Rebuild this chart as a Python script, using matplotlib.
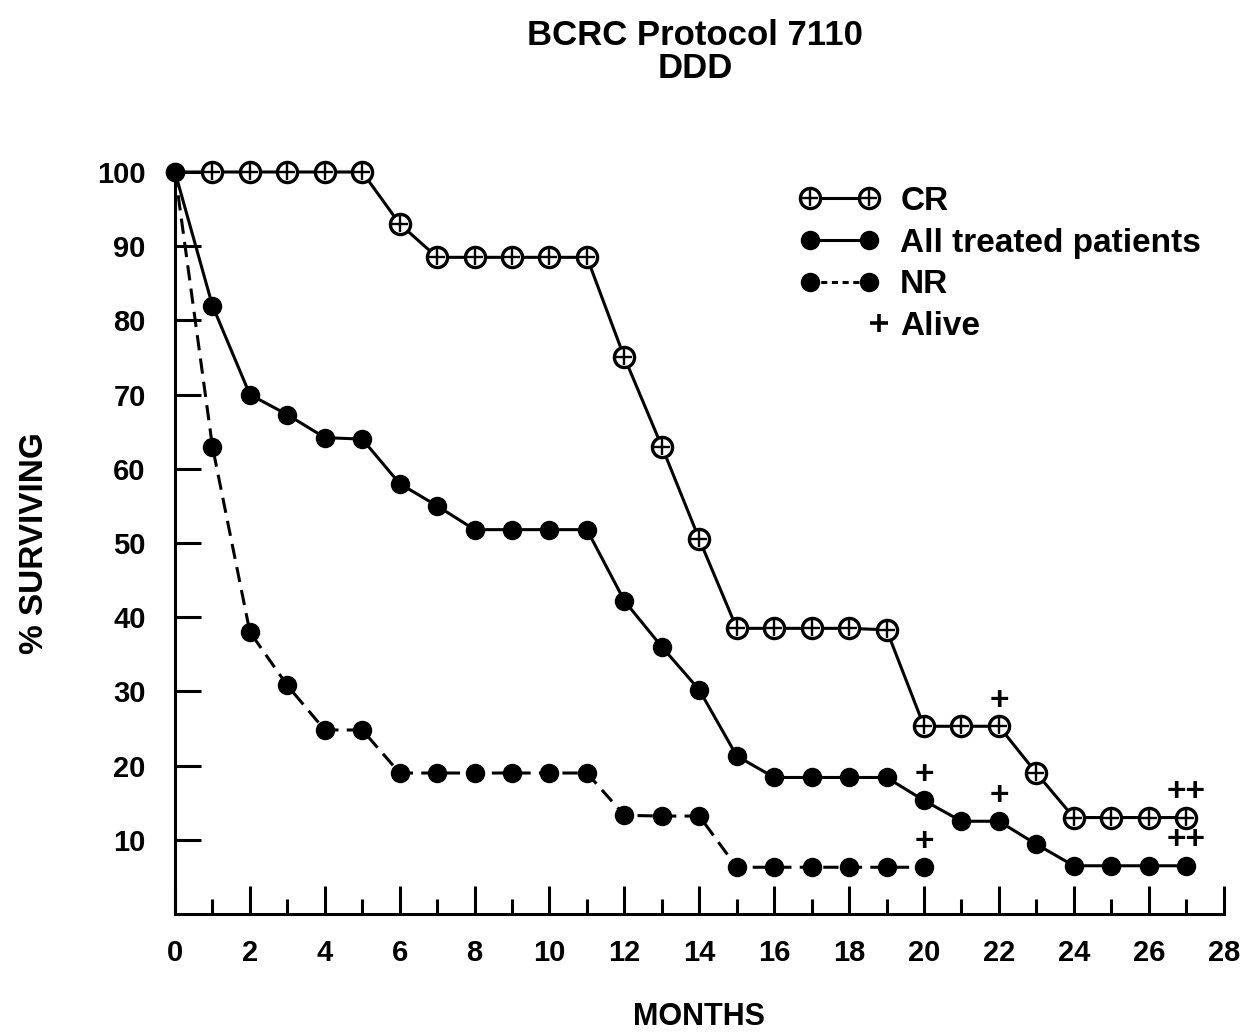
import matplotlib.pyplot as plt
from matplotlib.lines import Line2D
from matplotlib.legend_handler import HandlerLine2D
import numpy as np

plt.rcParams['font.family'] = ['Liberation Sans', 'DejaVu Sans']
plt.rcParams['font.weight'] = 'bold'
plt.rcParams['axes.labelweight'] = 'bold'

# 数据
months = list(range(28))
cr = [100, 100, 100, 100, 100, 100, 93, 88.5, 88.5, 88.5, 88.5, 88.5, 75, 63, 50.5,
      38.5, 38.5, 38.5, 38.5, 38.3, 25.3, 25.3, 25.3, 19, 13, 13, 13, 13]
all_treated = [100, 82, 70, 67.3, 64.2, 64, 58, 55, 51.8, 51.8, 51.8, 51.8, 42.2, 36, 30.2,
               21.3, 18.4, 18.4, 18.4, 18.4, 15.3, 12.5, 12.5, 9.4, 6.5, 6.5, 6.5, 6.5]
nr_months = list(range(21))
nr = [100, 63, 38, 30.8, 24.8, 24.8, 19, 19, 19, 19, 19, 19, 13.3, 13.2, 13.2,
      6.3, 6.3, 6.3, 6.3, 6.3, 6.3]

# 存活标记 (+)
cr_alive_x = [22, 27]
cr_alive_n = [1, 2]
all_alive_x = [20, 22, 27]
all_alive_n = [1, 1, 2]
nr_alive_x = [20]
nr_alive_n = [1]

x_ticks = list(range(0, 29, 2))
y_ticks = list(range(10, 101, 10))

lw = 2.2
fig = plt.figure(figsize=(12.41, 10.33), dpi=100)
ax = fig.add_axes([0.141, 0.1152, 0.845, 0.7183])

# NR 虚线
ax.plot(nr_months, nr, color='k', lw=lw, dashes=(5, 2.7), marker='o', ms=13,
        mfc='k', mec='k', clip_on=False, zorder=3)
# 全部患者
ax.plot(months, all_treated, color='k', lw=lw, marker='o', ms=13,
        mfc='k', mec='k', clip_on=False, zorder=3)
# CR 曲线
ax.plot(months, cr, color='k', lw=lw, clip_on=False, zorder=3)
ax.plot(months[1:], cr[1:], ls='none', marker='o', ms=14.5, mfc='white', mec='k',
        mew=2.4, clip_on=False, zorder=4)
ax.plot(months[1:], cr[1:], ls='none', marker='+', ms=11.5, mec='k',
        mew=1.7, clip_on=False, zorder=5)


def mark_alive(xs, ns, series, x_all):
    for x, n in zip(xs, ns):
        y = series[x_all.index(x)]
        ax.annotate('+' * n, (x, y), xytext=(0, 18), textcoords='offset points',
                    ha='center', va='center', fontsize=24, fontweight='bold',
                    annotation_clip=False)


mark_alive(cr_alive_x, cr_alive_n, cr, months)
mark_alive(all_alive_x, all_alive_n, all_treated, months)
mark_alive(nr_alive_x, nr_alive_n, nr, nr_months)

ax.set_xlim(0, 28)
ax.set_ylim(0, 100)
ax.spines['top'].set_visible(False)
ax.spines['right'].set_visible(False)
ax.spines['left'].set_linewidth(lw)
ax.spines['bottom'].set_linewidth(lw)

ax.set_xticks(x_ticks)
ax.set_xticks(range(1, 28, 2), minor=True)
ax.set_yticks(y_ticks)
ax.tick_params(axis='x', which='major', direction='in', length=20, width=lw, pad=18, labelsize=21)
ax.tick_params(axis='x', which='minor', direction='in', length=11, width=lw)
ax.tick_params(axis='y', which='major', direction='in', length=19, width=lw, pad=21, labelsize=21)
for lab in ax.get_xticklabels() + ax.get_yticklabels():
    lab.set_fontweight('bold')

ax.set_xlabel('MONTHS', fontsize=22, labelpad=25)
ax.set_ylabel('% SURVIVING', fontsize=24, labelpad=34)

fig.text(0.56, 0.966, 'BCRC Protocol 7110', ha='center', va='center', fontsize=25)
fig.text(0.56, 0.934, 'DDD', ha='center', va='center', fontsize=25)


# 图例: "+" 放在句柄右端
class HandlerRightMarker(HandlerLine2D):
    def get_xdata(self, legend, xdescent, ydescent, width, height, fontsize):
        x = np.array([-xdescent + width])
        return x, x


h_cr = (Line2D([], [], color='k', lw=lw, marker='o', ms=14.5, mfc='white', mec='k', mew=2.4),
        Line2D([], [], ls='none', marker='+', ms=11.5, mec='k', mew=1.7))
h_all = Line2D([], [], color='k', lw=lw, marker='o', ms=13, mfc='k', mec='k')
h_nr = Line2D([], [], color='k', lw=lw, dashes=(2, 1.5), marker='o', ms=13, mfc='k', mec='k')
h_alive = Line2D([], [], ls='none', marker='+', ms=13, mec='k', mew=2.6)

leg = ax.legend([h_cr, h_all, h_nr, h_alive], ['CR', 'All treated patients', 'NR', 'Alive'],
                loc='upper right', bbox_to_anchor=(0.992, 0.849), bbox_transform=fig.transFigure,
                frameon=False, numpoints=2, handlelength=2.36, handletextpad=0.65,
                labelspacing=0.32, fontsize=24,
                handler_map={h_alive: HandlerRightMarker(numpoints=1)})

fig.savefig('out.png', dpi=100)
